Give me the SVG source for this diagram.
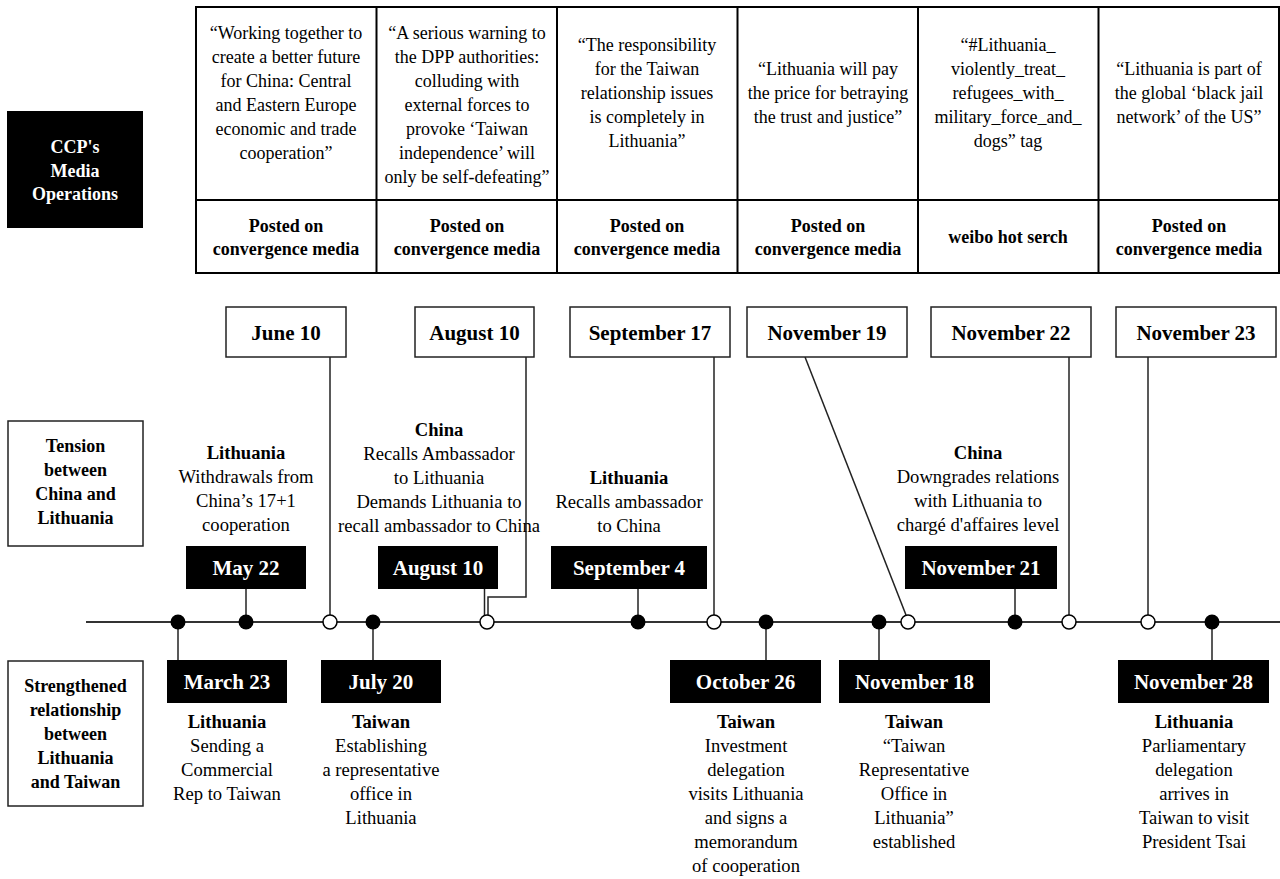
<svg xmlns="http://www.w3.org/2000/svg" width="1280" height="879" viewBox="0 0 1280 879">
<style>
text{font-family:"Liberation Serif","Times New Roman",serif;fill:#000;text-anchor:middle}
.t{font-size:18px}
.e{font-size:18.6px}
.b{font-weight:bold}
.d{font-size:21px;font-weight:bold}
.w{fill:#fff}
.lbl{font-size:18px;font-weight:bold}
.grid{fill:none;stroke:#000;stroke-width:2}
.wbox{fill:#fff;stroke:#222;stroke-width:1.5}
.bbox{fill:#000}
.conn{fill:none;stroke:#222;stroke-width:1.5}
.axis{fill:none;stroke:#333;stroke-width:2}
.dot{fill:#000}
.odot{fill:#fff;stroke:#000;stroke-width:1.5}
</style>

<g id="ccp-label">
<rect x="7" y="111" width="136" height="117" class="bbox"/>
<text class="lbl w" x="75" y="153">CCP's</text>
<text class="lbl w" x="75" y="177">Media</text>
<text class="lbl w" x="75" y="200">Operations</text>
</g>

<g id="tension-label">
<rect x="8" y="421" width="135" height="125" class="wbox"/>
<text class="lbl" x="75.5" y="452">Tension</text>
<text class="lbl" x="75.5" y="476">between</text>
<text class="lbl" x="75.5" y="500">China and</text>
<text class="lbl" x="75.5" y="524">Lithuania</text>
</g>

<g id="strengthened-label">
<rect x="8" y="661" width="135" height="145" class="wbox"/>
<text class="lbl" x="75.5" y="692">Strengthened</text>
<text class="lbl" x="75.5" y="716">relationship</text>
<text class="lbl" x="75.5" y="740">between</text>
<text class="lbl" x="75.5" y="764">Lithuania</text>
<text class="lbl" x="75.5" y="788">and Taiwan</text>
</g>

<g id="media-table">
<rect x="196" y="7" width="1083" height="266" class="grid"/>
<line x1="196" y1="200" x2="1279" y2="200" class="grid"/>
<line x1="376.5" y1="7" x2="376.5" y2="273" class="grid"/>
<line x1="557" y1="7" x2="557" y2="273" class="grid"/>
<line x1="737.5" y1="7" x2="737.5" y2="273" class="grid"/>
<line x1="918" y1="7" x2="918" y2="273" class="grid"/>
<line x1="1098.5" y1="7" x2="1098.5" y2="273" class="grid"/>
</g>

<g id="media-1">
<text class="t" x="286" y="39">“Working together to</text>
<text class="t" x="286" y="63">create a better future</text>
<text class="t" x="286" y="87">for China: Central</text>
<text class="t" x="286" y="111">and Eastern Europe</text>
<text class="t" x="286" y="135">economic and trade</text>
<text class="t" x="286" y="159">cooperation”</text>
<text class="t b" x="286" y="232">Posted on</text>
<text class="t b" x="286" y="255">convergence media</text>
</g>
<g id="media-2">
<text class="t" x="467" y="39">“A serious warning to</text>
<text class="t" x="467" y="63">the DPP authorities:</text>
<text class="t" x="467" y="87">colluding with</text>
<text class="t" x="467" y="111">external forces to</text>
<text class="t" x="467" y="135">provoke ‘Taiwan</text>
<text class="t" x="467" y="159">independence’ will</text>
<text class="t" x="467" y="183">only be self-defeating”</text>
<text class="t b" x="467" y="232">Posted on</text>
<text class="t b" x="467" y="255">convergence media</text>
</g>
<g id="media-3">
<text class="t" x="647" y="51">“The responsibility</text>
<text class="t" x="647" y="75">for the Taiwan</text>
<text class="t" x="647" y="99">relationship issues</text>
<text class="t" x="647" y="123">is completely in</text>
<text class="t" x="647" y="147">Lithuania”</text>
<text class="t b" x="647" y="232">Posted on</text>
<text class="t b" x="647" y="255">convergence media</text>
</g>
<g id="media-4">
<text class="t" x="828" y="75">“Lithuania will pay</text>
<text class="t" x="828" y="99">the price for betraying</text>
<text class="t" x="828" y="123">the trust and justice”</text>
<text class="t b" x="828" y="232">Posted on</text>
<text class="t b" x="828" y="255">convergence media</text>
</g>
<g id="media-5">
<text class="t" x="1008" y="51">“#Lithuania_</text>
<text class="t" x="1008" y="75">violently_treat_</text>
<text class="t" x="1008" y="99">refugees_with_</text>
<text class="t" x="1008" y="123">military_force_and_</text>
<text class="t" x="1008" y="147">dogs” tag</text>
<text class="t b" x="1008" y="243">weibo hot serch</text>
</g>
<g id="media-6">
<text class="t" x="1189" y="75">“Lithuania is part of</text>
<text class="t" x="1189" y="99">the global ‘black jail</text>
<text class="t" x="1189" y="123">network’ of the US”</text>
<text class="t b" x="1189" y="232">Posted on</text>
<text class="t b" x="1189" y="255">convergence media</text>
</g>

<g id="connectors">
<line x1="86" y1="622" x2="1280" y2="622" class="axis"/>
<line x1="330" y1="357" x2="330" y2="615" class="conn"/>
<polyline points="526,357 526,597 488,597 488,615" class="conn"/>
<line x1="714" y1="357" x2="714" y2="615" class="conn"/>
<line x1="805" y1="357" x2="906" y2="615" class="conn"/>
<line x1="1069" y1="357" x2="1069" y2="615" class="conn"/>
<line x1="1148" y1="357" x2="1148" y2="615" class="conn"/>
<line x1="246" y1="589" x2="246" y2="622" class="conn"/>
<line x1="484.5" y1="589" x2="484.5" y2="622" class="conn"/>
<line x1="638" y1="589" x2="638" y2="622" class="conn"/>
<line x1="1015" y1="589" x2="1015" y2="622" class="conn"/>
<line x1="178" y1="622" x2="178" y2="660" class="conn"/>
<line x1="373" y1="622" x2="373" y2="660" class="conn"/>
<line x1="766" y1="622" x2="766" y2="660" class="conn"/>
<line x1="879" y1="622" x2="879" y2="660" class="conn"/>
<line x1="1212" y1="622" x2="1212" y2="660" class="conn"/>
</g>

<g id="timeline-dots">
<circle cx="178" cy="622" r="7.5" class="dot"/>
<circle cx="246" cy="622" r="7.5" class="dot"/>
<circle cx="330" cy="622" r="7" class="odot"/>
<circle cx="373" cy="622" r="7.5" class="dot"/>
<circle cx="487" cy="622" r="7" class="odot"/>
<circle cx="638" cy="622" r="7.5" class="dot"/>
<circle cx="714" cy="622" r="7" class="odot"/>
<circle cx="766" cy="622" r="7.5" class="dot"/>
<circle cx="879" cy="622" r="7.5" class="dot"/>
<circle cx="908" cy="622" r="7" class="odot"/>
<circle cx="1015" cy="622" r="7.5" class="dot"/>
<circle cx="1069" cy="622" r="7" class="odot"/>
<circle cx="1148" cy="622" r="7" class="odot"/>
<circle cx="1212" cy="622" r="7.5" class="dot"/>
</g>

<g id="top-june10"><rect x="226" y="307" width="120" height="50" class="wbox"/><text class="d" x="286" y="340">June 10</text></g>
<g id="top-aug10"><rect x="415" y="307" width="119" height="50" class="wbox"/><text class="d" x="474.5" y="340">August 10</text></g>
<g id="top-sep17"><rect x="570" y="307" width="160" height="50" class="wbox"/><text class="d" x="650" y="340">September 17</text></g>
<g id="top-nov19"><rect x="747" y="307" width="160" height="50" class="wbox"/><text class="d" x="827" y="340">November 19</text></g>
<g id="top-nov22"><rect x="931" y="307" width="160" height="50" class="wbox"/><text class="d" x="1011" y="340">November 22</text></g>
<g id="top-nov23"><rect x="1116" y="307" width="160" height="50" class="wbox"/><text class="d" x="1196" y="340">November 23</text></g>

<g id="ev-may22">
<text class="e b" x="246" y="459">Lithuania</text>
<text class="e" x="246" y="483">Withdrawals from</text>
<text class="e" x="246" y="507">China’s 17+1</text>
<text class="e" x="246" y="531">cooperation</text>
<rect x="186" y="546" width="120" height="43" class="bbox"/>
<text class="d w" x="246" y="575">May 22</text>
</g>
<g id="ev-aug10">
<text class="e b" x="439" y="436">China</text>
<text class="e" x="439" y="460">Recalls Ambassador</text>
<text class="e" x="439" y="484">to Lithuania</text>
<text class="e" x="439" y="508">Demands Lithuania to</text>
<text class="e" x="439" y="532">recall ambassador to China</text>
<rect x="378" y="546" width="120" height="43" class="bbox"/>
<text class="d w" x="438" y="575">August 10</text>
</g>
<g id="ev-sep4">
<text class="e b" x="629" y="484">Lithuania</text>
<text class="e" x="629" y="508">Recalls ambassador</text>
<text class="e" x="629" y="532">to China</text>
<rect x="551" y="546" width="156" height="43" class="bbox"/>
<text class="d w" x="629" y="575">September 4</text>
</g>
<g id="ev-nov21">
<text class="e b" x="978" y="459">China</text>
<text class="e" x="978" y="483">Downgrades relations</text>
<text class="e" x="978" y="507">with Lithuania to</text>
<text class="e" x="978" y="531">chargé d'affaires level</text>
<rect x="905" y="546" width="152" height="43" class="bbox"/>
<text class="d w" x="981" y="575">November 21</text>
</g>

<g id="ev-mar23">
<rect x="167" y="660" width="120" height="43" class="bbox"/>
<text class="d w" x="227" y="689">March 23</text>
<text class="e b" x="227" y="728">Lithuania</text>
<text class="e" x="227" y="752">Sending a</text>
<text class="e" x="227" y="776">Commercial</text>
<text class="e" x="227" y="800">Rep to Taiwan</text>
</g>
<g id="ev-jul20">
<rect x="321" y="660" width="120" height="43" class="bbox"/>
<text class="d w" x="381" y="689">July 20</text>
<text class="e b" x="381" y="728">Taiwan</text>
<text class="e" x="381" y="752">Establishing</text>
<text class="e" x="381" y="776">a representative</text>
<text class="e" x="381" y="800">office in</text>
<text class="e" x="381" y="824">Lithuania</text>
</g>
<g id="ev-oct26">
<rect x="670" y="660" width="151" height="43" class="bbox"/>
<text class="d w" x="745.5" y="689">October 26</text>
<text class="e b" x="746" y="728">Taiwan</text>
<text class="e" x="746" y="752">Investment</text>
<text class="e" x="746" y="776">delegation</text>
<text class="e" x="746" y="800">visits Lithuania</text>
<text class="e" x="746" y="824">and signs a</text>
<text class="e" x="746" y="848">memorandum</text>
<text class="e" x="746" y="872">of cooperation</text>
</g>
<g id="ev-nov18">
<rect x="839" y="660" width="151" height="43" class="bbox"/>
<text class="d w" x="914.5" y="689">November 18</text>
<text class="e b" x="914" y="728">Taiwan</text>
<text class="e" x="914" y="752">“Taiwan</text>
<text class="e" x="914" y="776">Representative</text>
<text class="e" x="914" y="800">Office in</text>
<text class="e" x="914" y="824">Lithuania”</text>
<text class="e" x="914" y="848">established</text>
</g>
<g id="ev-nov28">
<rect x="1118" y="660" width="151" height="43" class="bbox"/>
<text class="d w" x="1193.5" y="689">November 28</text>
<text class="e b" x="1194" y="728">Lithuania</text>
<text class="e" x="1194" y="752">Parliamentary</text>
<text class="e" x="1194" y="776">delegation</text>
<text class="e" x="1194" y="800">arrives in</text>
<text class="e" x="1194" y="824">Taiwan to visit</text>
<text class="e" x="1194" y="848">President Tsai</text>
</g>
</svg>
